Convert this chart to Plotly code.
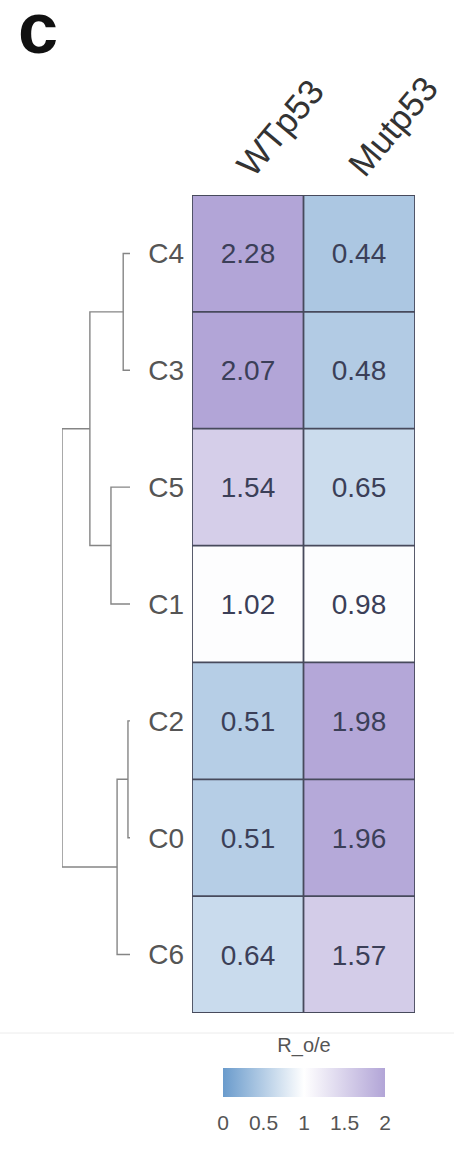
import plotly.graph_objects as go

# ---------------- data ----------------
rows = ["C4", "C3", "C5", "C1", "C2", "C0", "C6"]
cols = ["WTp53", "Mutp53"]
wt_vals = [2.28, 2.07, 1.54, 1.02, 0.51, 0.51, 0.64]
mut_vals = [0.44, 0.48, 0.65, 0.98, 1.98, 1.96, 1.57]

# dendrogram linkage (node ids: leaves 0..6 in row order, merges 7..)
link_left = [0, 2, 7, 4, 10, 9]
link_right = [1, 3, 8, 5, 6, 11]
link_height = [0.10, 0.28, 0.59, 0.03, 0.19, 1.00]

cbar_ticks = [0, 0.5, 1, 1.5, 2]
cbar_ticktext = ["0", "0.5", "1", "1.5", "2"]

# ---------------- figure ----------------
W, H = 454, 1151
FONT = "Liberation Sans, Arial, sans-serif"

z = [[wt_vals[i], mut_vals[i]] for i in range(len(rows))]
ncol, nrow = len(cols), len(rows)

fig = go.Figure()
fig.add_trace(go.Heatmap(
    z=z, x=list(range(ncol)), y=list(range(nrow)),
    zmin=0, zmax=2,
    colorscale=[[0, "#6a9bcc"], [0.5, "#ffffff"], [1, "#b2a5d7"]],
    texttemplate="%{z:.2f}",
    textfont=dict(size=28, color="#3b3f58", family=FONT),
    hoverinfo="skip",
    colorbar=dict(
        orientation="h", x=304 / W, xanchor="center",
        y=1 - 1045 / H, yanchor="top",
        len=162, lenmode="pixels", thickness=29,
        xpad=0, ypad=0, outlinewidth=0,
        tickvals=cbar_ticks, ticktext=cbar_ticktext,
        ticks="outside", ticklen=8, tickcolor="rgba(0,0,0,0)",
        tickfont=dict(size=21, color="#555555", family=FONT),
        title=dict(text="R_o/e", side="top",
                   font=dict(size=20, color="#555555", family=FONT)),
    ),
))

# dendrogram from linkage
node_y = {i: float(i) for i in range(nrow)}
node_h = {i: 0.0 for i in range(nrow)}
dx, dy = [], []
for k, (a, b, h) in enumerate(zip(link_left, link_right, link_height)):
    nid = nrow + k
    dx += [node_h[a], h, h, node_h[b], None]
    dy += [node_y[a], node_y[a], node_y[b], node_y[b], None]
    node_y[nid] = (node_y[a] + node_y[b]) / 2
    node_h[nid] = h

fig.add_trace(go.Scatter(
    x=dx, y=dy, mode="lines", xaxis="x2", yaxis="y",
    line=dict(color="#858585", width=1.4), hoverinfo="skip",
))

# cell borders
shapes = []
for i in range(nrow + 1):
    shapes.append(dict(type="line", xref="x", yref="y",
                       x0=-0.5, x1=ncol - 0.5, y0=i - 0.5, y1=i - 0.5,
                       line=dict(color="#474a5c", width=1.8)))
for j in range(ncol + 1):
    shapes.append(dict(type="line", xref="x", yref="y",
                       x0=j - 0.5, x1=j - 0.5, y0=-0.5, y1=nrow - 0.5,
                       line=dict(color="#474a5c", width=1.8)))
shapes.append(dict(type="line", xref="paper", yref="paper",
                   x0=0, x1=1, y0=1 - 1033 / H, y1=1 - 1033 / H,
                   line=dict(color="#ececec", width=1)))

fig.update_layout(
    width=W, height=H,
    margin=dict(l=0, r=0, t=0, b=0, autoexpand=False),
    paper_bgcolor="white", plot_bgcolor="white",
    showlegend=False,
    font=dict(family=FONT),
    shapes=shapes,
    xaxis=dict(domain=[192 / W, 415 / W], range=[-0.5, ncol - 0.5],
               side="top", tickvals=list(range(ncol)), ticktext=cols,
               tickangle=-50, ticks="", showgrid=False, zeroline=False,
               showline=False, anchor="y", automargin=False,
               ticklabelstandoff=2, ticklabelshift=-8,
               ticklabeloverflow="allow",
               tickfont=dict(size=35, color="#333333", family=FONT)),
    yaxis=dict(domain=[1 - 1013 / H, 1 - 195 / H], range=[nrow - 0.5, -0.5],
               tickvals=list(range(nrow)), ticktext=rows, ticks="",
               showgrid=False, zeroline=False, showline=False,
               ticklabelstandoff=7, automargin=False,
               ticklabeloverflow="allow",
               tickfont=dict(size=28, color="#555555", family=FONT)),
    xaxis2=dict(domain=[62 / W, 130 / W], range=[1.0, 0.0], visible=False,
                anchor="y", showgrid=False, zeroline=False),
    annotations=[dict(text="<b>c</b>", xref="paper", yref="paper",
                      x=16 / W, y=1, xanchor="left", yanchor="top",
                      yshift=14, showarrow=False,
                      font=dict(size=72, color="#111111", family=FONT))],
)

fig.write_html("out.html",
               config={"displayModeBar": False},
               post_script="document.body.style.margin='0';"
                           "document.body.style.overflow='hidden';")
